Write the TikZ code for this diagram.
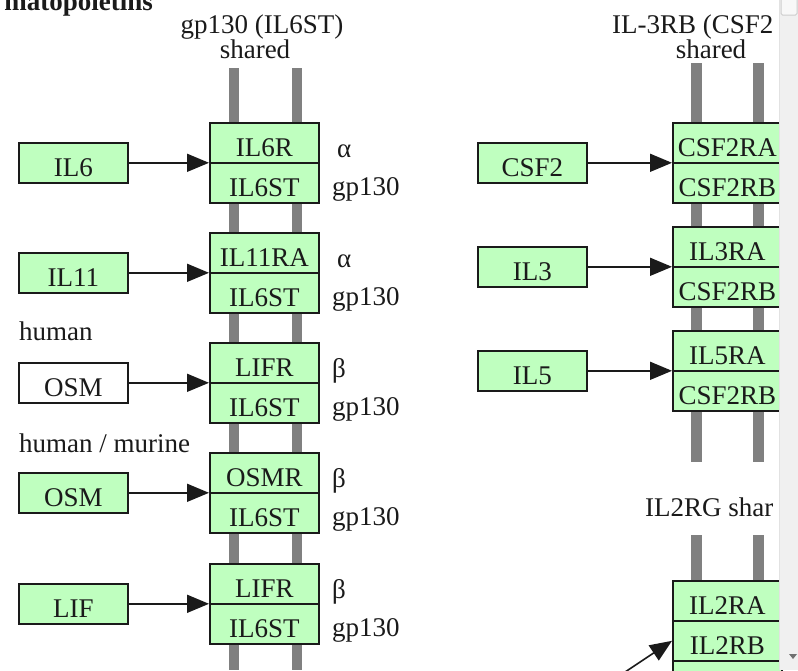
\documentclass[tikz,border=0pt]{standalone}
\usepackage{fontspec}
\setmainfont{Liberation Serif}
\usetikzlibrary{arrows.meta}
\definecolor{gene}{HTML}{BFFFBF}
\definecolor{membrane}{HTML}{808080}
\definecolor{ink}{HTML}{1A1A1A}
\definecolor{track}{HTML}{F0F0F0}
\definecolor{trackedge}{HTML}{E2E2E2}
\definecolor{thumb}{HTML}{F8F8F8}
\definecolor{thumbedge}{HTML}{CDCDCD}
\definecolor{arrowgray}{HTML}{707070}
\begin{document}
\begin{tikzpicture}[x=1pt,y=-1pt,
  font=\fontsize{27}{30}\selectfont,
  every node/.style={text=ink},
  cell/.style={draw=ink, line width=1.6pt, fill=gene, minimum width=109pt,
    minimum height=40pt, inner sep=0pt, text height=28pt, text depth=0pt,
    anchor=north west},
  plain/.style={cell, fill=white},
  sig/.style={draw=ink, line width=1.6pt, -{Triangle[length=22pt,width=18pt]}},
  lbl/.style={inner sep=0pt, anchor=base west},
  hdr/.style={inner sep=0pt, anchor=base}]
\useasboundingbox (0,0) rectangle (798,670);
\clip (0,0) rectangle (798,670);
\fill[white] (0,0) rectangle (798,670);

% section title, mostly scrolled out of view
\node[inner sep=0pt, anchor=base east, font=\fontsize{27}{30}\selectfont\bfseries] (title) at (153,10) {matopoietins};

% shared receptor chains (membrane-spanning bars)
\fill[membrane] (229,68) rectangle (239,670);
\fill[membrane] (292,68) rectangle (302,670);
\fill[membrane] (691,63) rectangle (702,462);
\fill[membrane] (753,63) rectangle (764,462);
\fill[membrane] (691,535) rectangle (702,670);
\fill[membrane] (753,535) rectangle (764,670);

% headings
\node[hdr] (gphdr) at (262,33) {gp130 (IL6ST)};
\node[hdr] (gpshared) at (255,58) {shared};
\node[inner sep=0pt, anchor=base west] (rbhdr) at (612,33) {IL-3RB (CSF2};
\node[hdr] (rbshared) at (711,58) {shared};
\node[inner sep=0pt, anchor=base west] (gchdr) at (645,516) {IL2RG shar};
\node[lbl] (human) at (19,340) {human};
\node[lbl] (humur) at (19,452) {human / murine};

% gp130 family: ligands
\node[cell]  (il6)  at (18,142) {IL6};
\node[cell]  (il11) at (18,252) {IL11};
\node[plain] (osmh) at (18,362) {OSM};
\node[cell]  (osmm) at (18,472) {OSM};
\node[cell]  (lif)  at (18,583) {LIF};

% gp130 family: receptors
\node[cell] (il6r)   at (209,122) {IL6R};
\node[cell] (st1)    at (209,162) {IL6ST};
\node[cell] (il11ra) at (209,232) {IL11RA};
\node[cell] (st2)    at (209,272) {IL6ST};
\node[cell] (lifr1)  at (209,342) {LIFR};
\node[cell] (st3)    at (209,382) {IL6ST};
\node[cell] (osmr)   at (209,452) {OSMR};
\node[cell] (st4)    at (209,492) {IL6ST};
\node[cell] (lifr2)  at (209,563) {LIFR};
\node[cell] (st5)    at (209,603) {IL6ST};

% subunit labels
\node[lbl] (a1) at (337,157) {α};
\node[lbl] (g1) at (332,195) {gp130};
\node[lbl] (a2) at (337,267) {α};
\node[lbl] (g2) at (332,305) {gp130};
\node[lbl] (b3) at (332,377) {β};
\node[lbl] (g3) at (332,415) {gp130};
\node[lbl] (b4) at (332,487) {β};
\node[lbl] (g4) at (332,525) {gp130};
\node[lbl] (b5) at (332,598) {β};
\node[lbl] (g5) at (332,636) {gp130};

% ligand -> receptor
\draw[sig] (il6.east)  -- (il6.east  -| il6r.west);
\draw[sig] (il11.east) -- (il11.east -| il11ra.west);
\draw[sig] (osmh.east) -- (osmh.east -| lifr1.west);
\draw[sig] (osmm.east) -- (osmm.east -| osmr.west);
\draw[sig] (lif.east)  -- (lif.east  -| lifr2.west);

% IL-3RB family
\node[cell] (csf2) at (477,142) {CSF2};
\node[cell] (il3)  at (477,246) {IL3};
\node[cell] (il5)  at (477,350) {IL5};
\node[cell] (csf2ra) at (672,122) {CSF2RA};
\node[cell] (rb1)    at (672,162) {CSF2RB};
\node[cell] (il3ra)  at (672,226) {IL3RA};
\node[cell] (rb2)    at (672,266) {CSF2RB};
\node[cell] (il5ra)  at (672,330) {IL5RA};
\node[cell] (rb3)    at (672,370) {CSF2RB};
\draw[sig] (csf2.east) -- (csf2.east -| csf2ra.west);
\draw[sig] (il3.east)  -- (il3.east  -| il3ra.west);
\draw[sig] (il5.east)  -- (il5.east  -| il5ra.west);

% IL2RG family
\node[cell] (il2ra) at (672,580) {IL2RA};
\node[cell] (il2rb) at (672,620) {IL2RB};
\node[cell] (il2rg) at (672,660) {};
\coordinate (il2src) at (580,702);
\draw[sig] (il2src) -- (il2rb.west);

% window scrollbar
\fill[track] (779,0) rectangle (798,670);
\draw[trackedge, line width=1pt] (779.5,0) -- (779.5,670);
\filldraw[fill=thumb, draw=thumbedge, line width=1pt, rounded corners=1.5pt] (781,-3) rectangle (797,15);
\fill[arrowgray] (789,654) -- (797,654) -- (793,659) -- cycle;
\end{tikzpicture}
\end{document}
